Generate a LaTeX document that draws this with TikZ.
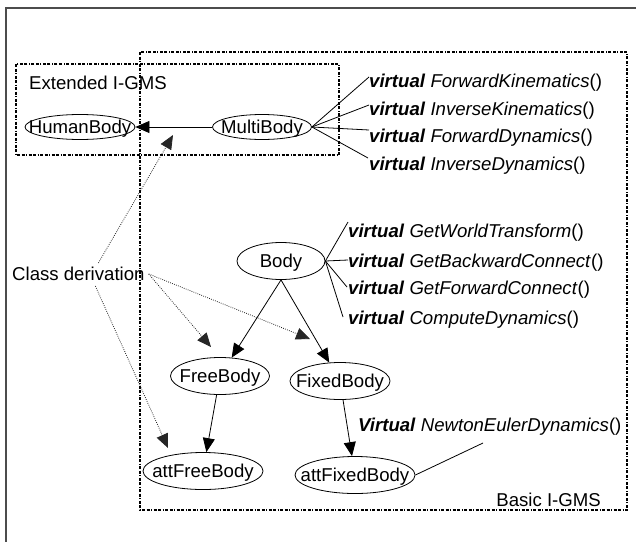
\documentclass[tikz,border=0pt]{standalone}
\usepackage{fontspec}
\setmainfont{Liberation Sans}
\usetikzlibrary{arrows.meta,shapes.geometric}
\newcommand{\cltext}[1]{\makebox[0pt]{\raisebox{-0.34em}[0pt][0pt]{#1}}}
\newcommand{\vmeth}[1]{\textbf{\textit{virtual}} \textit{#1}()}
\begin{document}
\begin{tikzpicture}[x=1pt,y=-1pt,
  font=\fontsize{18.6}{22}\selectfont,
  cls/.style={draw,ellipse,inner sep=0pt,line width=0.8pt},
  lbl/.style={anchor=west,inner sep=0pt},
  conn/.style={line width=0.8pt},
  tri/.style={-{Triangle[length=14pt,width=12pt]}},
  deriv/.style={line width=0.8pt,black!85,dash pattern=on 0.8pt off 1.3pt,-{Triangle[length=14pt,width=12pt]}},
  region/.style={line width=1.5pt,dash pattern=on 3pt off 1.5pt on 3pt off 1.5pt on 1pt off 1.5pt}]
\useasboundingbox (0,0) rectangle (636,541);
% outer frame (only top and left visible)
\draw[line width=1.5pt,black!70] (6,560) -- (6,8) -- (660,8);
% regions
\draw[region] (140,52) rectangle (627,510);
\draw[region] (16,64) rectangle (339,155);
\node[lbl] (ext) at (29,83) {Extended I-GMS};
\node[anchor=east,inner sep=0pt] (basic) at (601,500) {Basic I-GMS};
% classes
\node[cls,minimum width=110pt,minimum height=25pt] (human) at (80,127) {\cltext{HumanBody}};
\node[cls,minimum width=99pt,minimum height=25pt] (multi) at (262,127) {\cltext{MultiBody}};
\node[cls,minimum width=88pt,minimum height=37pt] (body) at (281,261) {\cltext{Body}};
\node[cls,minimum width=99pt,minimum height=37pt] (free) at (220,376) {\cltext{FreeBody}};
\node[cls,minimum width=100pt,minimum height=37pt] (fixed) at (340,381) {\cltext{FixedBody}};
\node[cls,minimum width=120pt,minimum height=37pt] (attfree) at (203,471) {\cltext{attFreeBody}};
\node[cls,minimum width=120pt,minimum height=37pt] (attfixed) at (355,475) {\cltext{attFixedBody}};
% methods of MultiBody
\node[lbl] (m1) at (369,83) {\vmeth{ForwardKinematics}};
\node[lbl] (m2) at (369,111) {\vmeth{InverseKinematics}};
\node[lbl] (m3) at (369,138) {\vmeth{ForwardDynamics}};
\node[lbl] (m4) at (369,166) {\vmeth{InverseDynamics}};
\draw[conn] (multi.east) -- ([yshift=6pt]m1.west);
\draw[conn] (multi.east) -- ([yshift=6pt]m2.west);
\draw[conn] (multi.east) -- ([yshift=8pt]m3.west);
\draw[conn] (multi.east) -- ([yshift=8pt,xshift=-1pt]m4.west);
% methods of Body
\node[lbl] (b1) at (348,233) {\vmeth{GetWorldTransform}};
\node[lbl] (b2) at (348,263) {\vmeth{GetBackwardConnect}};
\node[lbl] (b3) at (348,290) {\vmeth{GetForwardConnect}};
\node[lbl] (b4) at (348,320) {\vmeth{ComputeDynamics}};
\draw[conn] (body.east) -- ([yshift=11pt]b1.west);
\draw[conn] (body.east) -- ([yshift=3pt]b2.west);
\draw[conn] (body.east) -- ([yshift=3pt,xshift=-1pt]b3.west);
\draw[conn] (body.east) -- ([yshift=3pt,xshift=-5pt]b4.west);
% NewtonEuler
\node[lbl] (ne) at (358,427) {\textbf{\textit{Virtual}} \textit{NewtonEulerDynamics}()};
\coordinate (neend) at (483,443);
\draw[conn] (attfixed.east) -- (neend);
% inheritance arrows
\draw[conn,tri] (multi) -- (human);
\draw[conn,tri] (body.south) -- (free);
\draw[conn,tri] (body.south) -- (fixed);
\draw[conn,tri] (free) -- (attfree);
\draw[conn,tri] (fixed) -- (attfixed);
% class derivation
\node[lbl] (cd) at (12,274) {Class derivation};
\coordinate (t1) at (173,135);
\coordinate (t2) at (211,347);
\coordinate (t3) at (310,339);
\coordinate (t4) at (168,448);
\draw[deriv] ([xshift=20pt,yshift=4pt]cd.north) -- (t1);
\draw[deriv] ([xshift=4pt]cd.east) -- (t2);
\draw[deriv] ([xshift=4pt]cd.east) -- (t3);
\draw[deriv] ([xshift=17pt,yshift=-5pt]cd.south) -- (t4);
\end{tikzpicture}
\end{document}
